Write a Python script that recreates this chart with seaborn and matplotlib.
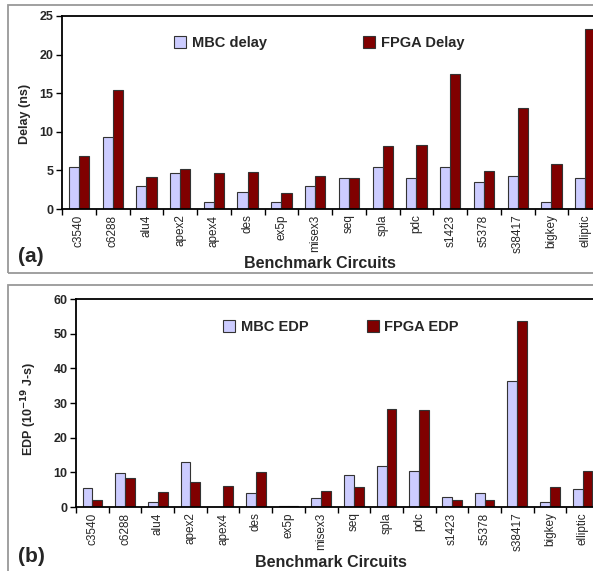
import pandas as pd
import seaborn as sns
import matplotlib.pyplot as plt
from matplotlib.patches import Rectangle
from matplotlib.ticker import FixedLocator, NullFormatter

sns.set_theme(style='white')
plt.rcParams['font.family'] = ['Liberation Sans', 'DejaVu Sans']

circuits = ['c3540', 'c6288', 'alu4', 'apex2', 'apex4', 'des', 'ex5p', 'misex3',
            'seq', 'spla', 'pdc', 's1423', 's5378', 's38417', 'bigkey', 'elliptic']

mbc_delay = [5.4, 9.3, 3.0, 4.6, 0.95, 2.15, 0.95, 3.0,
             4.0, 5.4, 4.0, 5.4, 3.45, 4.3, 0.95, 4.0]
fpga_delay = [6.9, 15.45, 4.1, 5.2, 4.6, 4.85, 2.05, 4.3,
              4.0, 8.2, 8.3, 17.5, 4.95, 13.05, 5.8, 23.3]

mbc_edp = [5.5, 9.7, 1.4, 13.1, 0.0, 3.9, 0.25, 2.7,
           9.2, 11.7, 10.3, 3.0, 3.9, 36.3, 1.5, 5.1]
fpga_edp = [2.1, 8.4, 4.2, 7.1, 6.0, 10.1, 0.25, 4.5,
            5.7, 28.3, 28.0, 1.9, 1.9, 53.7, 5.7, 10.5]

MBC_COLOR = '#ccccff'
FPGA_COLOR = '#800000'


def long_form(mbc, fpga, mbc_name, fpga_name):
    return pd.DataFrame({
        'Circuit': circuits * 2,
        'Value': mbc + fpga,
        'Series': [mbc_name] * len(circuits) + [fpga_name] * len(circuits),
    })


def draw_panel(ax, data, ymax, ystep, ylabel, leg_anchor, colspace):
    sns.barplot(data=data, x='Circuit', y='Value', hue='Series', ax=ax,
                palette=[MBC_COLOR, FPGA_COLOR], width=0.6, gap=0,
                edgecolor='#333333', linewidth=0.8, saturation=1)
    ax.set_xlim(-0.5, len(circuits) - 0.5)
    ax.set_ylim(0, ymax)
    ax.set_yticks(range(0, ymax + 1, ystep))
    for lab in ax.get_yticklabels():
        lab.set_fontweight('bold')
        lab.set_fontsize(9)
    ax.tick_params(axis='y', direction='out', length=4, width=1, color='black', pad=2, left=True)
    ax.tick_params(axis='x', which='major', length=0, pad=4, labelsize=8.5, labelrotation=90)
    ax.xaxis.set_minor_locator(FixedLocator([i - 0.5 for i in range(len(circuits) + 1)]))
    ax.xaxis.set_minor_formatter(NullFormatter())
    ax.tick_params(axis='x', which='minor', direction='out', length=4, width=1,
                   color='black', bottom=True)
    for side in ['left', 'bottom', 'top']:
        ax.spines[side].set_color('black')
        ax.spines[side].set_linewidth(1.3)
    ax.spines['right'].set_visible(False)
    ax.set_ylabel(ylabel, fontsize=9, fontweight='bold')
    ax.set_xlabel('Benchmark Circuits', fontsize=11.5, fontweight='bold')
    ax.legend(loc='center left', bbox_to_anchor=leg_anchor, ncol=2, frameon=False,
              prop={'weight': 'bold', 'size': 10.5}, handlelength=0.8, handleheight=0.8,
              handletextpad=0.4, columnspacing=colspace, borderpad=0, borderaxespad=0)


def main():
    fig = plt.figure(figsize=(5.93, 5.71), dpi=100)

    # panel frames
    fig.patches.append(Rectangle((8 / 593, 1 - 273 / 571), 1.0, 268 / 571,
                                 transform=fig.transFigure, fill=False,
                                 edgecolor='#999999', linewidth=1.3))
    fig.patches.append(Rectangle((8 / 593, -0.05), 1.0, 1 - 285 / 571 + 0.05,
                                 transform=fig.transFigure, fill=False,
                                 edgecolor='#999999', linewidth=1.3))

    ax1 = fig.add_axes([62 / 593, 1 - 209 / 571, 540 / 593, 193 / 571])
    draw_panel(ax1, long_form(mbc_delay, fpga_delay, 'MBC delay', 'FPGA Delay'),
               25, 5, 'Delay (ns)', (0.208, 0.86), 6.6)
    ax1.xaxis.set_label_coords(0.478, -0.245)
    ax1.yaxis.set_label_coords(-0.058, 0.49)

    ax2 = fig.add_axes([76 / 593, 1 - 507 / 571, 523 / 593, 208 / 571])
    draw_panel(ax2, long_form(mbc_edp, fpga_edp, 'MBC EDP', 'FPGA EDP'),
               60, 10, r'EDP (10$^{\mathbf{-19}}$ J-s)', (0.282, 0.865), 4.0)
    ax2.xaxis.set_label_coords(0.488, -0.232)
    ax2.yaxis.set_label_coords(-0.07, 0.47)

    fig.text(18 / 593, 1 - 256 / 571, '(a)', fontsize=15, fontweight='bold', va='center')
    fig.text(18 / 593, 1 - 557 / 571, '(b)', fontsize=15, fontweight='bold', va='center')

    fig.savefig('out.png', dpi=100)


if __name__ == '__main__':
    main()
